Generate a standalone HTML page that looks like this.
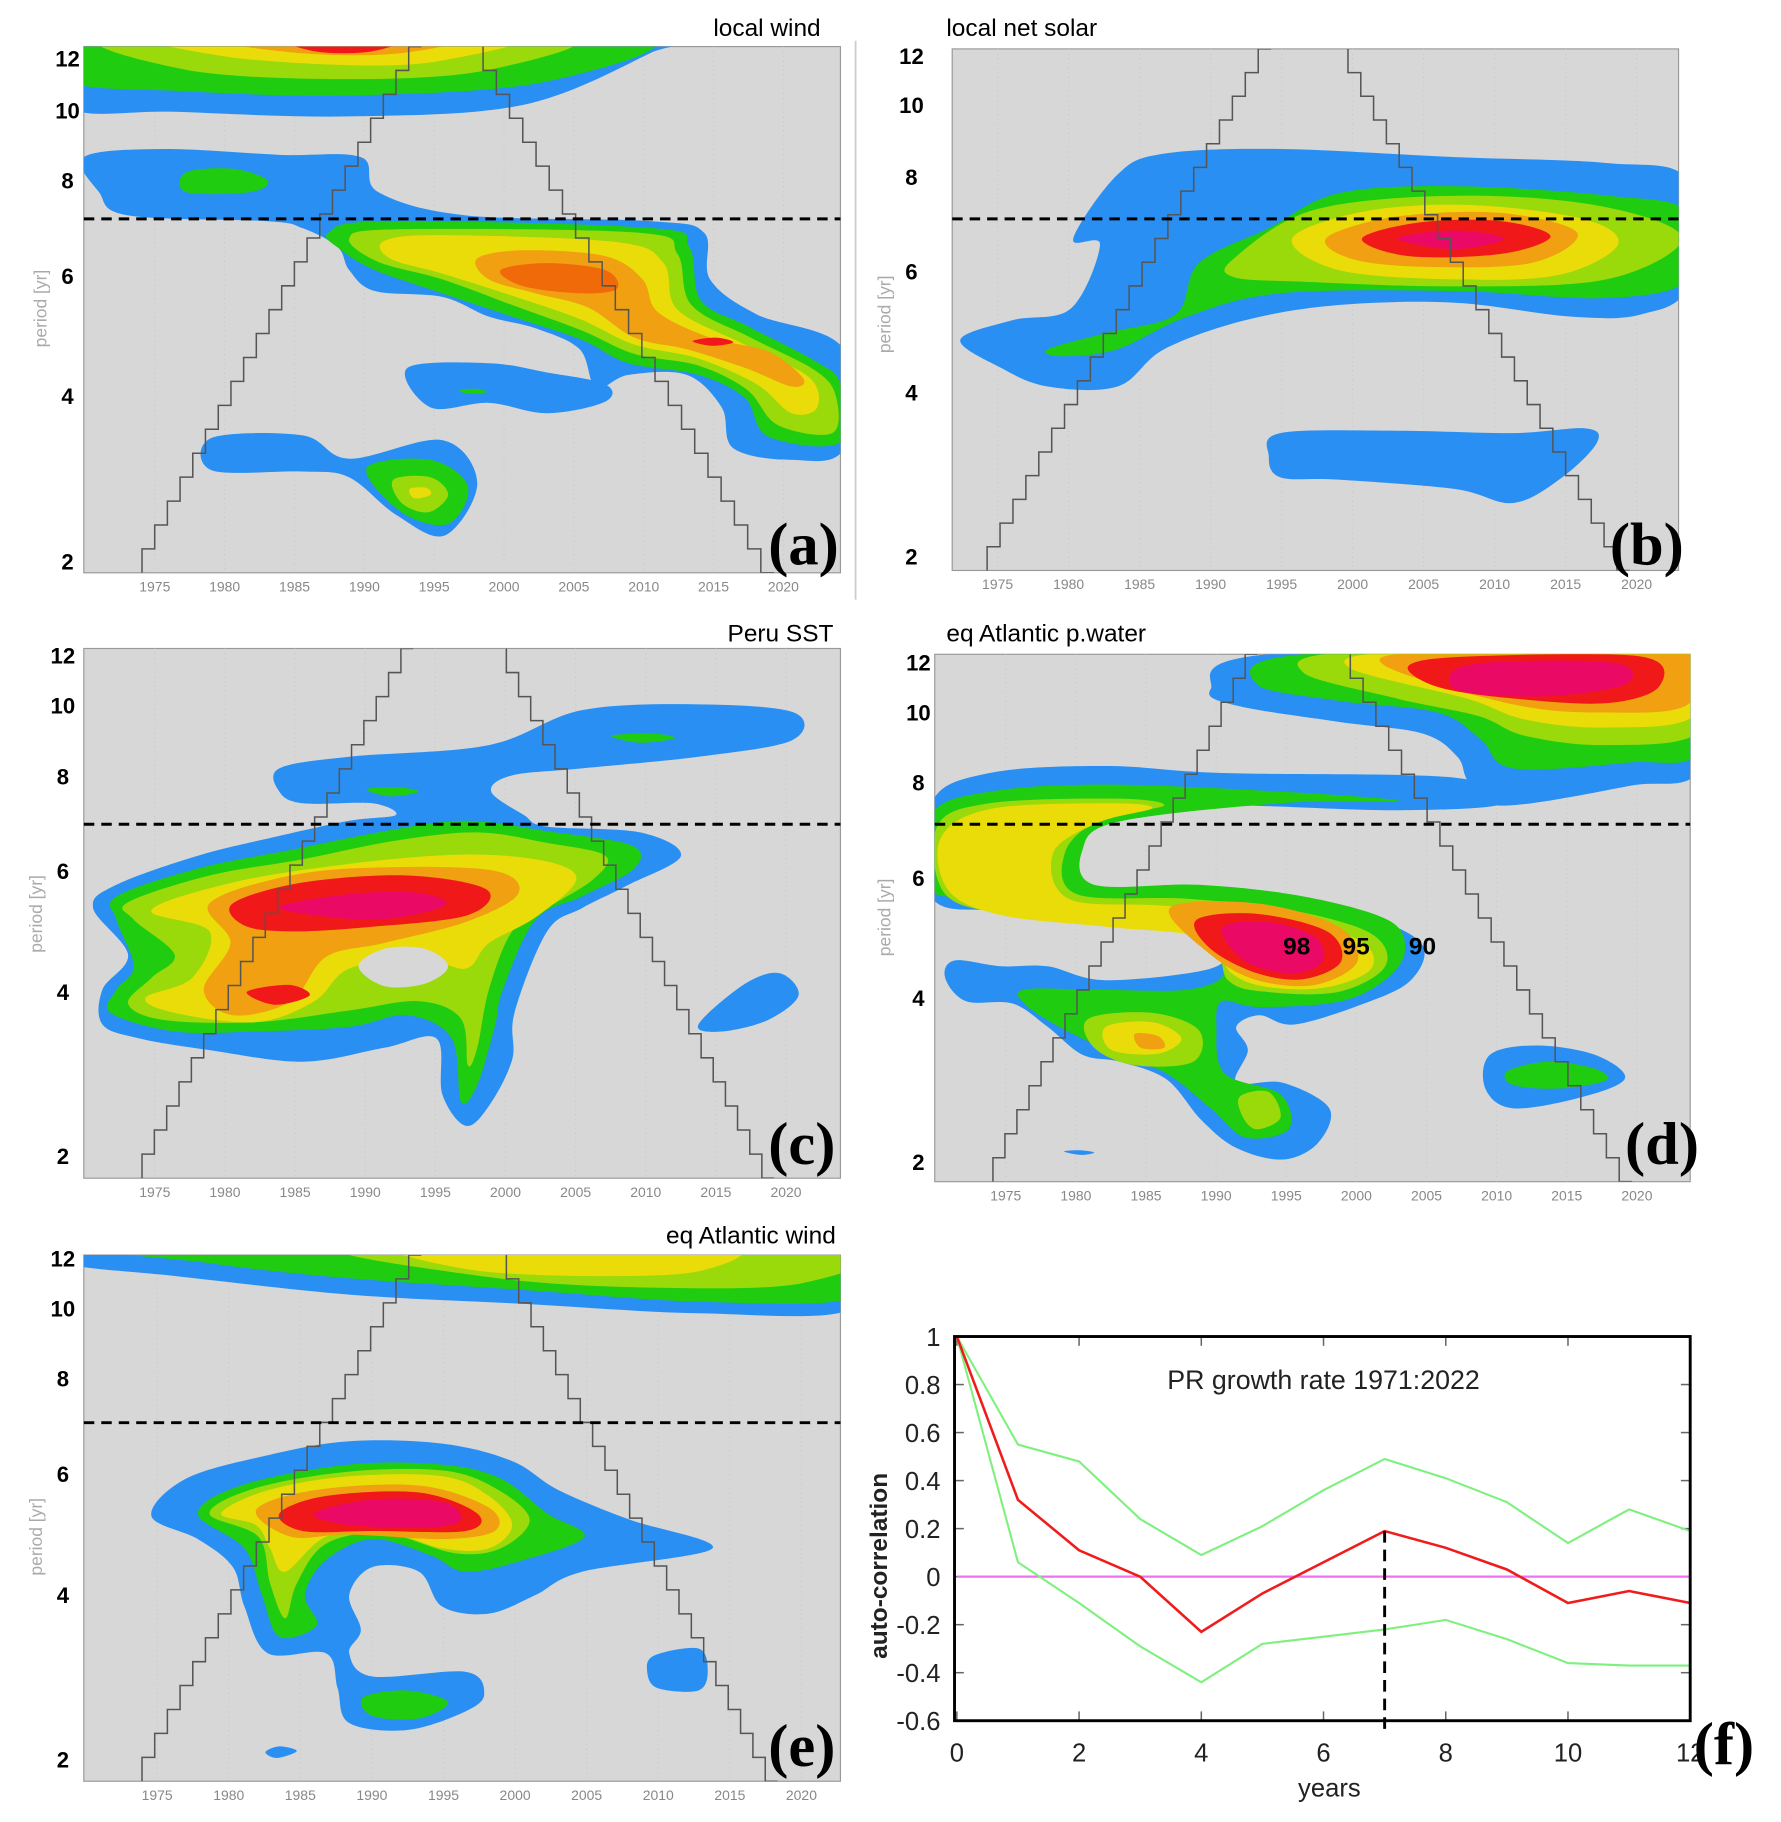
<!DOCTYPE html>
<html><head><meta charset="utf-8"><style>
html,body{margin:0;padding:0;background:#fff;}
svg{display:block;}
</style></head><body>
<svg id="s" width="1781" height="1822" viewBox="0 0 1530 1565" preserveAspectRatio="none" xmlns="http://www.w3.org/2000/svg" font-family="Liberation Sans, sans-serif">
<rect width="1530" height="1565" fill="#fff"/>
<line x1="735" y1="35" x2="735" y2="515" stroke="#ccc" stroke-width="1.5"/>
</svg>
<script>
const S=document.getElementById('s');const NS='http://www.w3.org/2000/svg';
function el(t,a,txt){const e=document.createElementNS(NS,t);for(const k in a)e.setAttribute(k,a[k]);if(txt!==undefined)e.textContent=txt;S.appendChild(e);return e;}
const C={b:'#2a8ff2',g:'#1fcc10',yg:'#9ad90a',y:'#eadc08',o:'#f0a010',do:'#f06a0a',r:'#f01818',m:'#ea0a66'};
function smooth(p){let n=p.length,d='M'+p[0][0]+','+p[0][1];for(let i=0;i<n;i++){const p0=p[(i-1+n)%n],p1=p[i],p2=p[(i+1)%n],p3=p[(i+2)%n];const c1=[p1[0]+(p2[0]-p0[0])/6,p1[1]+(p2[1]-p0[1])/6],c2=[p2[0]-(p3[0]-p1[0])/6,p2[1]-(p3[1]-p1[1])/6];d+=`C${c1[0].toFixed(1)},${c1[1].toFixed(1)} ${c2[0].toFixed(1)},${c2[1].toFixed(1)} ${p2[0]},${p2[1]}`;}return d+'Z';}
function blob(col,p,cid){const e=el('path',{d:smooth(p),fill:C[col]||col});if(cid)e.setAttribute('clip-path','url(#'+cid+')');}
function stair(x0,y0,x1,y1,n){let d='M'+x0+','+y0;const dx=(x1-x0)/n,dy=(y1-y0)/n;let x=x0,y=y0;for(let i=0;i<n;i++){y+=dy;d+=`L${x.toFixed(1)},${y.toFixed(1)}`;x+=dx;d+=`L${x.toFixed(1)},${y.toFixed(1)}`;}return d;}
function panel(P){
 const id='c'+P.id;
 const cp=el('clipPath',{id:id});const r=document.createElementNS(NS,'rect');r.setAttribute('x',P.x0);r.setAttribute('y',P.y0);r.setAttribute('width',P.x1-P.x0);r.setAttribute('height',P.y1-P.y0);cp.appendChild(r);
 el('rect',{x:P.x0,y:P.y0,width:P.x1-P.x0,height:P.y1-P.y0,fill:'#d7d7d7',stroke:'#999','stroke-width':1});
 for(let yr=1975;yr<=2020;yr+=5){const x=P.xa+(yr-1975)*P.k;el('line',{x1:x,y1:P.y0,x2:x,y2:P.y1,stroke:'#cacaca','stroke-width':1,'stroke-dasharray':'1,3'});
  el('text',{x:x,y:P.y1+16,'font-size':12,fill:'#888','text-anchor':'middle'},yr);}
 P.blobs.forEach(b=>blob(b[0],b[1],id));
 el('path',{d:stair(P.cl[0],P.y1,P.cl[1],P.y0,P.ns)+' M'+P.cr[0]+','+P.y0+' '+stair(P.cr[0],P.y0,P.cr[1],P.y1,P.ns).slice(1).replace(/^[^L]*/,'L'+P.cr[0]+','+P.y0),fill:'none',stroke:'#555','stroke-width':1.3,'clip-path':'url(#'+id+')'});
 el('line',{x1:P.x0,y1:P.dash,x2:P.x1,y2:P.dash,stroke:'#000','stroke-width':2.5,'stroke-dasharray':'9,6'});
 const L=['12','10','8','6','4','2'];P.ly.forEach((y,i)=>el('text',{x:P.lx,y:y+7,'font-size':19,'font-weight':'bold','text-anchor':'middle',fill:'#000'},L[i]));
 const t=el('text',{x:P.px,y:P.py,'font-size':15,fill:'#aaa','text-anchor':'middle',transform:`rotate(-90 ${P.px} ${P.py})`},'period  [yr]');
 el('text',{x:P.tx,y:P.ty,'font-size':21,fill:'#000','text-anchor':P.ta},P.title);
 el('text',{x:P.lbx,y:P.lby,'font-size':52,'font-weight':'bold','font-family':'Liberation Serif, serif',fill:'#000'},P.lab);
}
// Panel a
panel({id:'a',x0:72,x1:722,y0:40,y1:492,xa:133,k:12,dash:188,lx:58,ly:[50,95,155,237,340,482],px:40,py:265,tx:705,ty:31,ta:'end',title:'local wind',lbx:660,lby:485,lab:'(a)',cl:[122,362],cr:[415,665],ns:22,
blobs:[
['b',[[60,30],[580,30],[560,45],[450,90],[300,100],[150,96],[60,92]]],
['g',[[60,30],[540,30],[470,70],[300,82],[150,78],[60,70]]],
['yg',[[100,30],[480,30],[420,60],[300,68],[160,60]]],
['y',[[140,30],[440,30],[380,52],[300,56],[190,48]]],
['o',[[180,30],[400,30],[350,45],[280,47],[210,40]]],
['r',[[240,30],[350,30],[320,44],[270,44]]],
['b',[[72,135],[140,128],[240,133],[310,135],[325,165],[400,185],[560,190],[605,200],[610,240],[650,270],[725,300],[725,385],[680,395],[630,385],[620,350],[590,322],[540,322],[512,333],[498,300],[460,282],[420,272],[380,255],[322,250],[300,232],[290,212],[260,196],[230,190],[110,185],[85,165]]],
['g',[[160,148],[200,145],[230,155],[215,165],[160,165]]],
['g',[[282,200],[330,190],[560,196],[592,212],[602,258],[642,280],[700,310],[722,330],[722,380],[660,375],[640,342],[600,322],[540,312],[500,292],[440,272],[380,252],[322,232],[292,214]]],
['yg',[[300,205],[340,197],[550,200],[582,218],[594,262],[645,290],[700,318],[718,340],[715,372],[668,365],[642,335],[600,314],[545,304],[500,284],[440,262],[380,240],[325,225]]],
['y',[[330,207],[380,202],[530,208],[570,226],[582,266],[640,296],[695,324],[702,350],[680,355],[650,330],[600,308],[545,296],[498,274],[440,254],[380,235],[335,222]]],
['o',[[410,222],[450,215],[520,220],[552,240],[565,268],[610,290],[660,302],[690,325],[680,332],[640,316],[590,300],[545,290],[505,264],[460,252],[420,240]]],
['do',[[430,232],[470,226],[520,232],[530,248],[500,252],[450,246]]],
['r',[[595,293],[615,290],[630,294],[612,297]]],
['b',[[350,316],[420,312],[470,320],[520,330],[520,345],[470,355],[420,346],[370,350]]],
['g',[[395,335],[410,334],[418,337],[402,338]]],
['b',[[182,376],[260,374],[300,394],[380,378],[410,415],[382,460],[340,442],[300,410],[260,405],[182,404]]],
['g',[[315,402],[370,395],[402,418],[385,450],[345,440]]],
['yg',[[338,412],[370,410],[385,425],[368,440],[345,432]]],
['y',[[352,420],[366,419],[370,425],[356,428]]]
]});
// Panel b
panel({id:'b',x0:818,x1:1442,y0:42,y1:490,xa:857,k:12.2,dash:188,lx:783,ly:[48,90,152,233,337,478],px:765,py:270,tx:813,ty:31,ta:'start',title:'local net solar',lbx:1383,lby:485,lab:'(b)',cl:[848,1092],cr:[1158,1400],ns:22,
blobs:[
['b',[[825,292],[870,275],[920,265],[945,210],[922,205],[960,150],[1000,132],[1100,128],[1250,135],[1380,140],[1450,155],[1450,245],[1410,270],[1350,272],[1250,260],[1150,262],[1070,275],[1000,300],[960,332],[900,332],[860,316]]],
['g',[[900,300],[950,286],[1010,270],[1030,226],[1090,196],[1150,166],[1250,160],[1380,168],[1450,182],[1450,240],[1380,256],[1250,250],[1100,252],[1020,272],[960,300],[912,306]]],
['yg',[[1060,222],[1130,180],[1260,168],[1380,178],[1445,205],[1380,240],[1250,246],[1120,242],[1060,238]]],
['y',[[1110,205],[1170,182],[1260,176],[1360,188],[1390,210],[1340,236],[1250,240],[1150,232]]],
['o',[[1140,204],[1200,186],[1290,183],[1355,200],[1315,226],[1220,229],[1160,222]]],
['r',[[1170,205],[1220,191],[1290,190],[1332,203],[1290,218],[1210,220]]],
['m',[[1200,205],[1250,198],[1292,205],[1250,214]]],
['b',[[1100,372],[1200,370],[1300,372],[1362,368],[1372,380],[1342,410],[1300,432],[1250,420],[1150,412],[1100,410],[1090,392]]]
]});
// Panel c
panel({id:'c',x0:72,x1:722,y0:557,y1:1012,xa:133,k:12.05,dash:708,lx:54,ly:[563,606,667,748,852,993],px:36,py:785,tx:716,ty:551,ta:'end',title:'Peru SST',lbx:660,lby:1000,lab:'(c)',cl:[122,355],cr:[435,665],ns:22,
blobs:[
['b',[[240,660],[300,650],[420,640],[500,610],[600,605],[682,612],[680,636],[600,650],[500,660],[440,666],[422,680],[450,700],[470,710],[550,715],[585,735],[540,760],[500,780],[470,800],[442,870],[440,910],[420,950],[400,967],[380,940],[375,892],[330,900],[260,912],[180,902],[120,892],[88,880],[88,850],[110,820],[80,780],[100,760],[170,735],[240,718],[300,705],[340,700],[320,690],[260,690],[240,680]]],
['g',[[525,632],[560,630],[580,634],[550,638]]],
['g',[[315,678],[340,676],[360,680],[335,684]]],
['g',[[100,770],[170,746],[250,730],[330,714],[400,705],[470,714],[542,726],[545,746],[500,770],[460,790],[432,850],[425,882],[410,932],[396,946],[388,892],[350,872],[300,882],[220,886],[150,886],[95,870],[100,850],[115,830],[100,790]]],
['yg',[[110,775],[180,752],[260,738],[340,722],[410,715],[470,724],[520,735],[510,755],[470,780],[440,800],[420,850],[410,900],[402,915],[396,875],[360,860],[300,868],[220,878],[140,876],[110,862],[130,840],[150,820],[115,790]]],
['y',[[130,782],[200,758],[300,742],[400,734],[470,740],[495,756],[460,788],[420,810],[400,832],[360,822],[300,832],[270,860],[220,878],[150,870],[125,857],[165,840],[180,800]]],
['o',[[180,776],[250,752],[330,745],[425,748],[445,768],[400,792],[330,810],[280,822],[250,860],[200,872],[175,850],[198,810]]],
['r',[[200,776],[260,758],[350,752],[418,764],[402,786],[320,796],[250,800],[210,795]]],
['m',[[240,780],[300,768],[360,767],[382,778],[320,790]]],
['r',[[212,852],[248,846],[266,855],[236,863]]],
['#d7d7d7',[[308,830],[330,815],[365,815],[385,830],[365,845],[330,847]]],
['b',[[600,880],[640,845],[670,836],[686,855],[660,876],[620,886]]]
]});
// Panel d
panel({id:'d',x0:803,x1:1452,y0:562,y1:1015,xa:864,k:12.05,dash:708,lx:789,ly:[569,612,672,754,857,998],px:765,py:788,tx:813,ty:551,ta:'start',title:'eq Atlantic p.water',lbx:1396,lby:1000,lab:'(d)',cl:[853,1080],cr:[1160,1402],ns:22,
blobs:[
['b',[[1040,592],[1090,562],[1460,555],[1460,660],[1400,675],[1290,692],[1262,672],[1252,650],[1222,630],[1150,620],[1062,606]]],
['g',[[1080,588],[1120,562],[1460,555],[1460,645],[1400,655],[1300,660],[1272,635],[1235,612],[1150,602]]],
['yg',[[1120,578],[1160,560],[1460,558],[1460,628],[1380,640],[1310,632],[1270,615],[1200,600]]],
['y',[[1160,574],[1200,560],[1460,558],[1455,615],[1380,625],[1310,618],[1260,600]]],
['o',[[1190,572],[1230,560],[1455,560],[1450,605],[1380,612],[1300,605]]],
['r',[[1210,572],[1260,564],[1410,564],[1425,590],[1380,604],[1300,600],[1235,590]]],
['m',[[1250,575],[1300,568],[1390,570],[1396,588],[1330,598],[1255,594]]],
['b',[[800,690],[850,664],[950,658],[1050,664],[1250,668],[1292,690],[1200,696],[1050,692],[950,700],[920,740],[950,770],[1030,770],[1100,780],[1180,790],[1222,812],[1212,842],[1172,862],[1112,880],[1082,872],[1062,882],[1072,902],[1062,930],[1102,930],[1142,952],[1132,982],[1102,996],[1062,986],[1032,962],[1002,927],[962,912],[930,906],[900,882],[870,862],[830,860],[812,840],[820,825],[860,830],[900,830],[950,842],[1040,832],[1050,812],[1010,792],[960,792],[900,782],[850,782],[800,770]]],
['g',[[800,700],[850,680],[950,674],[1100,680],[1202,688],[1100,690],[960,706],[930,730],[940,760],[1030,760],[1120,770],[1192,790],[1207,815],[1192,840],[1152,860],[1082,865],[1050,860],[1045,882],[1052,922],[1100,940],[1107,970],[1070,977],[1040,952],[1002,922],[960,906],[910,882],[880,862],[880,850],[940,850],[1020,850],[1052,835],[1032,802],[970,792],[900,787],[830,772],[800,762]]],
['yg',[[805,710],[850,690],[960,686],[1000,692],[945,704],[915,732],[925,768],[1020,772],[1110,782],[1178,802],[1190,830],[1150,852],[1088,852],[1055,842],[1038,805],[960,795],[870,786],[812,768]]],
['y',[[808,720],[850,695],[950,690],[990,694],[945,706],[905,732],[918,772],[1000,778],[1100,788],[1168,808],[1178,832],[1140,848],[1090,848],[1058,836],[1035,806],[950,796],[860,786],[815,765]]],
['o',[[1005,780],[1080,776],[1150,796],[1166,826],[1130,846],[1080,842],[1040,820]]],
['r',[[1028,790],[1080,785],[1140,800],[1152,826],[1120,841],[1080,836],[1040,815]]],
['m',[[1050,797],[1090,792],[1130,805],[1136,826],[1110,836],[1070,826]]],
['yg',[[935,875],[990,870],[1030,885],[1025,912],[975,915],[940,900]]],
['y',[[950,882],[990,878],[1015,892],[995,905],[955,902]]],
['o',[[975,888],[995,890],[1000,900],[980,900]]],
['yg',[[1065,942],[1090,938],[1100,960],[1080,970],[1068,960]]],
['b',[[1280,906],[1320,898],[1370,906],[1396,926],[1360,942],[1300,952],[1276,935]]],
['g',[[1295,920],[1330,912],[1370,918],[1380,928],[1340,935],[1300,932]]],
['b',[[914,989],[928,988],[940,990],[928,992]]]
]});
el('text',{x:1114,y:820,'font-size':21,'font-weight':'bold','text-anchor':'middle',fill:'#000'},'98');
el('text',{x:1165,y:820,'font-size':21,'font-weight':'bold','text-anchor':'middle',fill:'#000'},'95');
el('text',{x:1222,y:820,'font-size':21,'font-weight':'bold','text-anchor':'middle',fill:'#000'},'90');
// Panel e
panel({id:'e',x0:72,x1:722,y0:1078,y1:1530,xa:135,k:12.3,dash:1222,lx:54,ly:[1081,1124,1184,1266,1370,1511],px:36,py:1320,tx:718,ty:1068,ta:'end',title:'eq Atlantic wind',lbx:660,lby:1517,lab:'(e)',cl:[122,362],cr:[435,668],ns:22,
blobs:[
['b',[[60,1070],[730,1070],[730,1125],[600,1128],[450,1120],[300,1112],[150,1096],[60,1086]]],
['g',[[110,1070],[730,1070],[730,1115],[600,1118],[450,1108],[300,1098],[180,1085]]],
['yg',[[300,1070],[730,1070],[690,1102],[560,1106],[420,1097]]],
['y',[[350,1070],[620,1070],[600,1092],[500,1096],[400,1090]]],
['b',[[130,1302],[160,1270],[230,1250],[300,1238],[380,1240],[440,1255],[480,1280],[540,1305],[612,1330],[500,1350],[460,1370],[420,1386],[380,1380],[360,1350],[320,1346],[300,1370],[310,1400],[300,1420],[320,1440],[400,1436],[416,1455],[400,1470],[350,1486],[300,1480],[290,1450],[280,1420],[230,1420],[210,1380],[200,1346],[170,1322]]],
['g',[[170,1300],[210,1275],[300,1258],[380,1258],[430,1270],[470,1300],[502,1320],[450,1340],[400,1350],[370,1336],[320,1322],[280,1340],[262,1370],[272,1396],[240,1406],[225,1370],[210,1330]]],
['yg',[[180,1300],[220,1278],[300,1264],[380,1263],[425,1278],[455,1305],[430,1330],[390,1334],[330,1317],[280,1326],[255,1360],[245,1390],[232,1360],[222,1320]]],
['y',[[190,1300],[230,1280],[300,1268],[380,1268],[420,1285],[440,1310],[420,1330],[380,1330],[330,1315],[280,1320],[245,1350],[232,1330],[220,1310]]],
['o',[[220,1297],[270,1280],[360,1276],[420,1295],[425,1315],[380,1322],[300,1318],[250,1320]]],
['r',[[240,1300],[280,1285],[360,1282],[410,1300],[400,1315],[320,1315],[260,1315]]],
['m',[[270,1300],[320,1288],[380,1290],[396,1305],[370,1312],[300,1310]]],
['g',[[312,1458],[350,1452],[385,1462],[360,1476],[320,1474]]],
['b',[[562,1422],[600,1416],[608,1435],[600,1452],[565,1450],[556,1436]]],
['b',[[228,1505],[240,1500],[255,1504],[238,1510]]]
]});
// Panel f
(function(){
 const X=v=>822+v*52.5, Y=v=>1148+(1-v)*206.25;
 el('rect',{x:820,y:1148,width:632,height:330,fill:'#fff'});
 for(let i=0;i<=12;i+=2){el('line',{x1:X(i),y1:1148,x2:X(i),y2:1156,stroke:'#666','stroke-width':1.3});el('line',{x1:X(i),y1:1478,x2:X(i),y2:1470,stroke:'#666','stroke-width':1.3});
  el('text',{x:X(i),y:1513,'font-size':22,'text-anchor':'middle',fill:'#222'},i);}
 const yl=[1,0.8,0.6,0.4,0.2,0,-0.2,-0.4,-0.6];
 yl.forEach(v=>{el('line',{x1:820,y1:Y(v),x2:828,y2:Y(v),stroke:'#666','stroke-width':1.3});el('line',{x1:1452,y1:Y(v),x2:1444,y2:Y(v),stroke:'#666','stroke-width':1.3});
  el('text',{x:808,y:Y(v)+8,'font-size':22,'text-anchor':'end',fill:'#222'},String(v));});
 el('line',{x1:822,y1:Y(0),x2:1452,y2:Y(0),stroke:'#f070f0','stroke-width':2});
 const up=[1,.55,.48,.24,.09,.21,.36,.49,.41,.31,.14,.28,.19],lo=[1,.06,-.11,-.29,-.44,-.28,-.25,-.22,-.18,-.26,-.36,-.37,-.37],rd=[1,.32,.11,0,-.23,-.07,.06,.19,.12,.03,-.11,-.06,-.11];
 const pl=a=>a.map((v,i)=>X(i).toFixed(1)+','+Y(v).toFixed(1)).join(' ');
 el('polyline',{points:pl(up),fill:'none',stroke:'#7ef07e','stroke-width':1.8});
 el('polyline',{points:pl(lo),fill:'none',stroke:'#7ef07e','stroke-width':1.8});
 el('polyline',{points:pl(rd),fill:'none',stroke:'#f01c1c','stroke-width':2.2});
 el('line',{x1:X(7),y1:Y(.19),x2:X(7),y2:1485,stroke:'#000','stroke-width':2.5,'stroke-dasharray':'10,6'});
 el('rect',{x:820,y:1148,width:632,height:330,fill:'none',stroke:'#000','stroke-width':2.5});
 el('text',{x:1137,y:1193,'font-size':23,'text-anchor':'middle',fill:'#222'},'PR growth rate 1971:2022');
 el('text',{x:1142,y:1543,'font-size':22,'text-anchor':'middle',fill:'#222'},'years');
 el('text',{x:762,y:1345,'font-size':21,'font-weight':'bold','text-anchor':'middle',fill:'#222',transform:'rotate(-90 762 1345)'},'auto-correlation');
 el('text',{x:1455,y:1515,'font-size':52,'font-weight':'bold','font-family':'Liberation Serif, serif',fill:'#000'},'(f)');
})();
</script>
</body></html>
